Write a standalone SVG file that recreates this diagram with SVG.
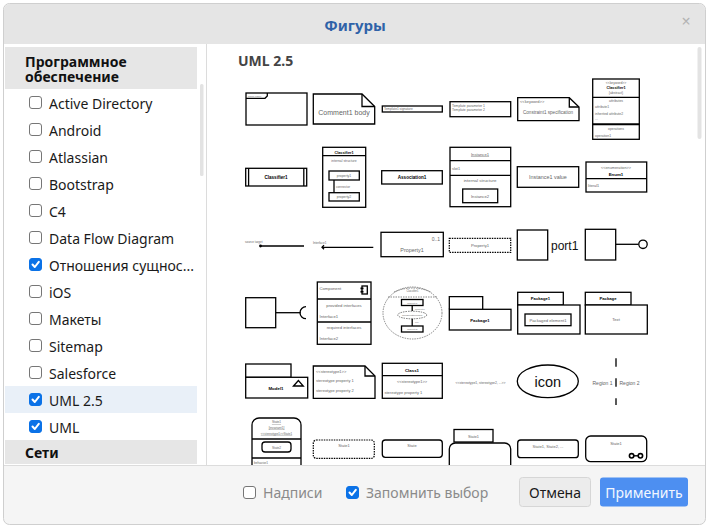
<svg xmlns="http://www.w3.org/2000/svg" width="710" height="530" viewBox="0 0 710 530">
<style>
.ui{font-family:"Noto Sans","Open Sans","DejaVu Sans",sans-serif}
.item{font-family:"Noto Sans","Open Sans",sans-serif;font-size:14px;fill:#1a1a1a}
.sec{font-family:"Noto Sans","Open Sans",sans-serif;font-size:14px;font-weight:bold;fill:#111}
.cb{fill:#fff;stroke:#767676;stroke-width:1}
.cbon{fill:#0b72e7;stroke:#0b72e7;stroke-width:1}
.chk{fill:none;stroke:#fff;stroke-width:2;stroke-linecap:round;stroke-linejoin:round}
.s{fill:#fff;stroke:#000;stroke-width:1.3}
.n{fill:none;stroke:#000;stroke-width:1.3}
.d{fill:#fff;stroke:#000;stroke-width:1.2;stroke-dasharray:1.5 1}
.g{fill:none;stroke:#555;stroke-width:0.7;stroke-dasharray:1.5 1}
.t{font-family:"Liberation Sans",Arial,sans-serif;fill:#666}
.tb{font-family:"Liberation Sans",Arial,sans-serif;fill:#000;font-weight:bold}
.m{text-anchor:middle}
</style>
<defs>
<clipPath id="rp"><rect x="207" y="44" width="498" height="421"/></clipPath>
</defs>
<rect x="0" y="0" width="710" height="530" fill="#fff"/>
<g id="dialog">
<rect x="3.5" y="3.5" width="702" height="521" rx="6" fill="#f5f5f5" stroke="#cfcfcf"/>
<path d="M4,44 V10 a6,6 0 0 1 6,-6 H699 a6,6 0 0 1 6,6 V44 Z" fill="#e5e5e5"/>
<text class="ui" x="355" y="31" font-size="15" font-weight="bold" fill="#2f62a8" text-anchor="middle">Фигуры</text>
<text class="ui" x="686" y="27" font-size="16" fill="#b3b3b3" text-anchor="middle">×</text>
<rect x="4" y="44" width="701" height="421" fill="#fff"/>
<line x1="206.5" y1="44" x2="206.5" y2="465" stroke="#dcdcdc"/>
<line x1="4" y1="465.5" x2="705" y2="465.5" stroke="#dcdcdc"/>
</g>
<g id="sidebar">
<rect x="5" y="47" width="192" height="42" fill="#e6e6e6"/>
<text class="sec" x="25" y="67" font-size="13.8">Программное</text>
<text class="sec" x="25" y="82" font-size="13.8">обеспечение</text>
<rect x="200" y="84" width="3.5" height="92" rx="1.5" fill="#e3e3e3"/>
<rect x="5" y="386" width="192" height="27" fill="#e9f0f8"/>
<rect class="cb" x="29.5" y="96.5" width="12" height="12" rx="2.5"/><text class="item" x="49" y="108.8">Active Directory</text>
<rect class="cb" x="29.5" y="123.5" width="12" height="12" rx="2.5"/><text class="item" x="49" y="135.8">Android</text>
<rect class="cb" x="29.5" y="150.5" width="12" height="12" rx="2.5"/><text class="item" x="49" y="162.8">Atlassian</text>
<rect class="cb" x="29.5" y="177.5" width="12" height="12" rx="2.5"/><text class="item" x="49" y="189.8">Bootstrap</text>
<rect class="cb" x="29.5" y="204.5" width="12" height="12" rx="2.5"/><text class="item" x="49" y="216.8">C4</text>
<rect class="cb" x="29.5" y="231.5" width="12" height="12" rx="2.5"/><text class="item" x="49" y="243.8">Data Flow Diagram</text>
<rect class="cbon" x="29.5" y="258.5" width="12" height="12" rx="2.5"/><path class="chk" d="M32.5,264.5 L34.8,267 L38.8,261.8"/><text class="item" x="49" y="270.8">Отношения сущнос...</text>
<rect class="cb" x="29.5" y="285.5" width="12" height="12" rx="2.5"/><text class="item" x="49" y="297.8">iOS</text>
<rect class="cb" x="29.5" y="312.5" width="12" height="12" rx="2.5"/><text class="item" x="49" y="324.8">Макеты</text>
<rect class="cb" x="29.5" y="339.5" width="12" height="12" rx="2.5"/><text class="item" x="49" y="351.8">Sitemap</text>
<rect class="cb" x="29.5" y="366.5" width="12" height="12" rx="2.5"/><text class="item" x="49" y="378.8">Salesforce</text>
<rect class="cbon" x="29.5" y="393.5" width="12" height="12" rx="2.5"/><path class="chk" d="M32.5,399.5 L34.8,402 L38.8,396.8"/><text class="item" x="49" y="405.8">UML 2.5</text>
<rect class="cbon" x="29.5" y="420.5" width="12" height="12" rx="2.5"/><path class="chk" d="M32.5,426.5 L34.8,429 L38.8,423.8"/><text class="item" x="49" y="432.8">UML</text>
<rect x="5" y="440" width="192" height="24" fill="#e6e6e6"/>
<text class="sec" x="25" y="457.5">Сети</text>
</g>
<g id="shapes" clip-path="url(#rp)">
<text class="ui" x="238" y="66" font-size="14" font-weight="bold" fill="#444">UML 2.5</text>
<rect x="697.5" y="47" width="4" height="92" rx="2" fill="#e3e3e3"/>
<!-- row 1 -->
<g id="frame"><rect class="s" x="246" y="93" width="61" height="32"/><path class="n" d="M246,98.3 H265 L267.3,96 V93"/><text class="t" x="248" y="96.5" font-size="2.5">frame name</text></g>
<g id="comment"><path class="s" d="M313.3,94 H362 L374.7,106.5 V124 H313.3 Z"/><path class="n" d="M362,94 V106.5 H374.7"/><text class="t m" x="344" y="115" font-size="7" fill="#555">Comment1 body</text></g>
<g id="tsig"><rect class="s" x="382.3" y="106" width="60" height="6"/><text class="t" x="384" y="110.3" font-size="3.2">Template1 signature</text></g>
<g id="tparam"><rect class="s" x="450" y="101.7" width="60.7" height="15"/><text class="t" x="452" y="107" font-size="3.4">Template parameter 1</text><text class="t" x="452" y="111" font-size="3.4">Template parameter 2</text></g>
<g id="constraint"><path class="s" d="M517.7,97.7 H569.3 L579,107 V120.7 H517.7 Z"/><path class="n" d="M569.3,97.7 V107 H579"/><text class="t" x="520" y="103" font-size="4">&lt;&lt;keyword&gt;&gt;</text><text class="t m" x="548" y="113.5" font-size="4.6">Constraint1 specification</text></g>
<g id="classifier"><rect class="s" x="592.7" y="79" width="46.6" height="60.3"/><line class="n" x1="592.7" y1="97.3" x2="639.3" y2="97.3"/><line x1="592.7" y1="124.3" x2="639.3" y2="124.3" stroke="#000" stroke-width="2"/>
<text class="t m" x="616" y="83.5" font-size="3.4">&lt;&lt;keyword&gt;&gt;</text><text class="tb m" x="616" y="88.5" font-size="3.8">Classifier1</text><text class="t m" x="616" y="93.5" font-size="3.4">{abstract}</text>
<text class="t m" x="616" y="101.5" font-size="3.4">attributes</text><text class="t" x="595" y="108" font-size="3.4">attribute1</text><text class="t" x="595" y="114.5" font-size="3.4">inherited attribute2</text><text class="t" x="595" y="120" font-size="3.4">...</text>
<text class="t m" x="616" y="129.5" font-size="3.4">operations</text><text class="t" x="595" y="136.5" font-size="3.4">operation1</text></g>
<!-- row 2 -->
<g id="classifier2"><rect class="s" x="245.7" y="168.3" width="61" height="17.7"/><line class="n" x1="248.6" y1="168.3" x2="248.6" y2="186"/><line class="n" x1="303.8" y1="168.3" x2="303.8" y2="186"/><text class="tb m" x="276" y="179" font-size="4.6">Classifier1</text></g>
<g id="internal"><rect class="s" x="322.7" y="147.3" width="43" height="60"/><line class="n" x1="322.7" y1="155.7" x2="365.7" y2="155.7"/><text class="tb m" x="344" y="153.5" font-size="3.8">Classifier1</text><text class="t m" x="344" y="161.5" font-size="3.4">internal structure</text>
<rect class="s" x="329" y="171" width="30.3" height="9"/><text class="t m" x="344" y="176.8" font-size="3.4">property1</text>
<line class="n" x1="334" y1="180" x2="334" y2="192.7"/><text class="t" x="336" y="187.5" font-size="3.2">connector</text>
<rect class="s" x="329" y="192.7" width="30.3" height="8.3"/><text class="t m" x="344" y="198.2" font-size="3.4">property2</text></g>
<g id="association"><rect class="s" x="381.7" y="170.7" width="60.6" height="13.3"/><text class="tb m" x="412" y="179" font-size="4.6">Association1</text></g>
<g id="instance"><rect class="s" x="450" y="147.3" width="60.7" height="59.4"/><line class="n" x1="450" y1="160.7" x2="510.7" y2="160.7"/><line class="n" x1="450" y1="175.3" x2="510.7" y2="175.3"/>
<text class="t m" x="480" y="155.5" font-size="4.2" text-decoration="underline">Instance1</text><text class="t" x="452" y="169.5" font-size="3.8">slot1</text><text class="t m" x="480" y="182" font-size="4.4">internal structure</text>
<rect class="s" x="462.7" y="189" width="35" height="13.7"/><text class="t m" x="480" y="197.5" font-size="4.2">Instance2</text></g>
<g id="ivalue"><rect class="s" x="517.3" y="166.7" width="61.4" height="20.6"/><text class="t m" x="548" y="179" font-size="5.4">Instance1 value</text></g>
<g id="enum"><rect class="s" x="586" y="162" width="60.7" height="30"/><line class="n" x1="586" y1="178.7" x2="646.7" y2="178.7"/><text class="t m" x="616" y="169" font-size="3.8">&lt;&lt;enumeration&gt;&gt;</text><text class="tb m" x="616" y="175.5" font-size="4.4">Enum1</text><text class="t" x="588" y="187" font-size="3.8">literal1</text></g>
<!-- row 3 -->
<g id="connectors">
<line class="n" x1="260" y1="246" x2="304" y2="246"/><circle cx="260.5" cy="246" r="1.4" fill="#000"/><text class="t" x="245" y="243" font-size="3">source target</text>
<line class="n" x1="322" y1="247.3" x2="373.3" y2="247.3"/><path class="n" d="M324,245.3 L322,247.3 L324,249.3" stroke-width="0.9"/><text class="t" x="313" y="243.5" font-size="3">Interface1</text>
<line class="n" x1="276" y1="312.7" x2="300.7" y2="312.7"/><path class="n" d="M306,306.7 A6,6 0 0 0 306,318.7"/>
<line class="n" x1="615.7" y1="244.3" x2="638.7" y2="244.3"/><circle class="s" cx="643" cy="244.3" r="4.2"/>
</g>
<g id="property"><rect class="s" x="381" y="232.3" width="62.3" height="24.4"/><text class="t" x="440" y="241" font-size="5" text-anchor="end">0..1</text><text class="t m" x="412" y="252" font-size="5.4">Property1</text></g>
<g id="property2"><rect class="d" x="449.3" y="238.3" width="61.4" height="14"/><text class="t m" x="480" y="246.7" font-size="4.2" fill="#888">Property1</text></g>
<g id="port"><rect class="s" x="517.3" y="230" width="30.4" height="30"/><text x="551" y="249.5" font-family="Liberation Sans,Arial,sans-serif" font-size="12" fill="#111">port1</text></g>
<g id="lollipop"><rect class="s" x="585.3" y="229.3" width="30.4" height="30.7"/></g>
<!-- row 4 -->
<g id="reqif"><rect class="s" x="245.7" y="297.7" width="30" height="30"/></g>
<g id="component"><rect class="s" x="317.3" y="282" width="53.7" height="62.3"/><line class="n" x1="317.3" y1="299" x2="371" y2="299"/><line class="n" x1="317.3" y1="322" x2="371" y2="322"/>
<text class="t" x="319.5" y="289.5" font-size="4.2">Component</text>
<rect x="362" y="286" width="5.3" height="8" fill="#fff" stroke="#000" stroke-width="1.3"/><rect x="360.5" y="287.5" width="3" height="1.8" fill="#000"/><rect x="360.5" y="290.8" width="3" height="1.8" fill="#000"/>
<text class="t m" x="344" y="307" font-size="4.2">provided interfaces</text><text class="t" x="319.5" y="318" font-size="4.2">Interface1</text>
<text class="t m" x="344" y="329" font-size="4.2">required interfaces</text><text class="t" x="319.5" y="340" font-size="4.2">Interface2</text></g>
<g id="collab"><ellipse class="g" cx="412.5" cy="313" rx="29.5" ry="26"/><path class="g" d="M394,292 Q412.5,284 431,292"/><line class="g" x1="388" y1="297" x2="437" y2="297"/><text class="t m" x="412.5" y="292" font-size="2.6">Classifier1</text>
<rect class="s" x="401.5" y="299.5" width="21.5" height="6" stroke-width="1"/><text class="t m" x="412.2" y="303.6" font-size="2.4">property1</text>
<line class="n" x1="412.2" y1="305.5" x2="412.2" y2="311" stroke-width="1"/><text class="t" x="415" y="310" font-size="2.2">connector</text>
<ellipse cx="412.2" cy="315" rx="14.5" ry="3.8" fill="#fff" stroke="#555" stroke-width="0.8" stroke-dasharray="1.5 1"/><text class="t m" x="412.2" y="316" font-size="2.5">CollaborationUse1</text>
<line class="n" x1="412.2" y1="318.8" x2="412.2" y2="326" stroke-width="1"/><text class="t" x="415" y="323" font-size="2.2">role</text>
<rect class="s" x="401.5" y="326" width="21.5" height="6" stroke-width="1"/><text class="t m" x="412.2" y="330.2" font-size="2.4">property2</text></g>
<g id="package1"><path class="s" d="M449.3,309.3 V296.7 H482.7 V309.3"/><rect class="s" x="449.3" y="309.3" width="61.7" height="20.7"/><text class="tb m" x="480" y="321.5" font-size="4.2">Package1</text></g>
<g id="package2"><rect class="s" x="517.7" y="292.3" width="45.6" height="12.7"/><rect class="s" x="517.7" y="305" width="62.3" height="29"/><text class="tb m" x="540.5" y="300.2" font-size="4.2">Package1</text>
<rect class="s" x="525" y="314" width="46" height="11.7"/><text class="t m" x="548" y="321.5" font-size="4.2">Packaged element1</text></g>
<g id="package3"><rect class="s" x="585.3" y="292.3" width="45.7" height="12.7"/><rect class="s" x="585.3" y="305" width="62" height="29"/><text class="tb m" x="608" y="300.2" font-size="4.2">Package</text><text class="t m" x="616" y="321" font-size="4.2">Text</text></g>
<!-- row 5 -->
<g id="model"><rect class="s" x="245.7" y="364" width="45.3" height="13.3"/><rect class="s" x="245.7" y="377.3" width="62" height="20.7"/><text class="tb m" x="276" y="389.5" font-size="4.4">Model1</text><path class="n" d="M293.5,386 L298.4,380.5 L303.3,386 Z"/></g>
<g id="stnote"><path class="s" d="M313.3,366 H365 L375,376 V398.3 H313.3 Z"/><path class="n" d="M365,366 V376 H375"/><text class="t" x="316" y="372.5" font-size="4">&lt;&lt;stereotype1&gt;&gt;</text><text class="t" x="316" y="381.5" font-size="4">stereotype property 1</text><text class="t" x="316" y="391.5" font-size="4">stereotype property 2</text></g>
<g id="class1"><rect class="s" x="382.3" y="363.3" width="60" height="35"/><line class="n" x1="382.3" y1="375.7" x2="442.3" y2="375.7"/><text class="tb m" x="412" y="371.7" font-size="4.4">Class1</text><text class="t m" x="412" y="383" font-size="4">&lt;&lt;stereotype1&gt;&gt;</text><text class="t" x="384.5" y="394" font-size="4">stereotype property 1</text></g>
<g id="sttext"><text class="t m" x="480.5" y="383.5" font-size="3.4" fill="#888">&lt;&lt;stereotype1, stereotype2, ...&gt;&gt;</text></g>
<g id="icon"><ellipse class="s" cx="547.8" cy="381.3" rx="30.5" ry="16.3"/><text class="m" x="547.8" y="386.5" font-family="Liberation Sans,Arial,sans-serif" font-size="14.5" fill="#111">icon</text></g>
<g id="region"><line x1="616" y1="358.3" x2="616" y2="405" stroke="#000" stroke-width="1.3" stroke-dasharray="8.4 11.6"/><text class="t" x="612.5" y="385" font-size="5" text-anchor="end" fill="#7a6a6a">Region 1</text><text class="t" x="619.5" y="385" font-size="5">Region 2</text></g>
<!-- row 6 -->
<g id="composite"><path class="s" d="M252,470 V425 a7,7 0 0 1 7,-7 H294 a7,7 0 0 1 7,7 V470"/><line class="n" x1="252" y1="439" x2="301" y2="439"/><line class="n" x1="252" y1="458" x2="301" y2="458"/>
<text class="t m" x="276.5" y="423" font-size="3.2" text-decoration="underline">State1</text><text class="t m" x="276.5" y="428.5" font-size="3.2" text-decoration="underline">[invariant1]</text><text class="t m" x="276.5" y="434.5" font-size="3" text-decoration="underline">&lt;&lt;stereotype1&gt;&gt;State1</text>
<rect class="s" x="262" y="442" width="29" height="10" rx="3"/><text class="t m" x="276.5" y="448.5" font-size="3.2">State2</text><text class="t" x="254" y="464" font-size="3.2">behavior1</text></g>
<g id="state1d"><rect class="d" x="313.3" y="440" width="61" height="18.3" rx="3"/><text class="t m" x="344" y="447" font-size="4">State1</text></g>
<g id="state"><rect class="s" x="382.3" y="440" width="60" height="17.3" rx="3"/><text class="t m" x="412" y="447" font-size="4">State</text></g>
<g id="tabstate"><rect class="s" x="454" y="429.5" width="39" height="12.5"/><rect class="s" x="449.3" y="443" width="61.4" height="40" rx="6"/><text class="t m" x="473.5" y="437.5" font-size="3.8">State1</text></g>
<g id="states"><rect class="s" x="517.7" y="440" width="60.6" height="17.7" rx="3"/><text class="t m" x="548" y="448" font-size="4">State1, State2, ...</text></g>
<g id="glasses"><rect class="s" x="585.7" y="436" width="61" height="25.7" rx="5"/><text class="t m" x="616" y="445" font-size="4">State1</text><circle cx="631.6" cy="455.8" r="2.2" fill="none" stroke="#000" stroke-width="1.6"/><circle cx="640.4" cy="455.8" r="2.2" fill="none" stroke="#000" stroke-width="1.6"/><line x1="633.8" y1="455.8" x2="638.2" y2="455.8" stroke="#000" stroke-width="1.4"/></g>
</g>
<g id="footer">
<rect class="cb" x="243.5" y="486.5" width="12" height="12" rx="2.5"/>
<text class="ui" x="263" y="497.5" font-size="14" fill="#8a8a8a">Надписи</text>
<rect class="cbon" x="346.5" y="486.5" width="12" height="12" rx="2.5"/><path class="chk" d="M349.5,492.5 L351.8,495 L355.8,489.8"/>
<text class="ui" x="366" y="497.5" font-size="14" fill="#8a8a8a">Запомнить выбор</text>
<rect x="519.5" y="477.5" width="71" height="29" rx="3" fill="#ececec" stroke="#d6d6d6"/>
<text class="ui" x="555" y="497.5" font-size="14" fill="#1a1a1a" text-anchor="middle">Отмена</text>
<rect x="600" y="477.5" width="88" height="29" rx="3" fill="#4d8ff1"/>
<text class="ui" x="644" y="497.5" font-size="14" fill="#f2f7ff" text-anchor="middle">Применить</text>
</g>
</svg>
